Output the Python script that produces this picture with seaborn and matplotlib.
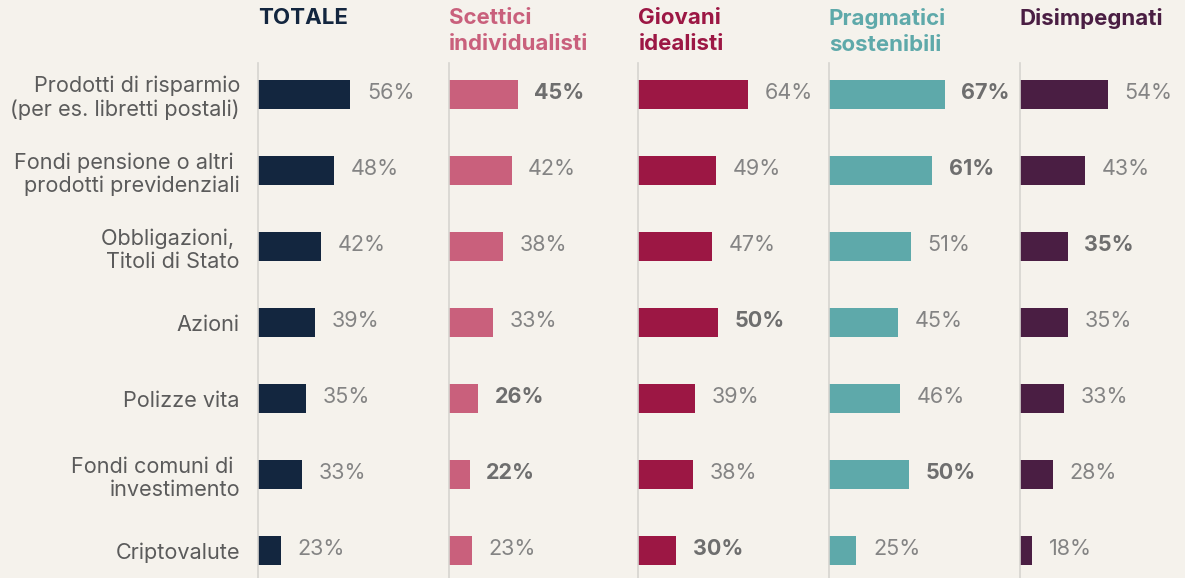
import pandas as pd
import matplotlib.pyplot as plt
import seaborn as sns

# --- data ---
categories = [
    "Prodotti di risparmio\n(per es. libretti postali)",
    "Fondi pensione o altri \nprodotti previdenziali",
    "Obbligazioni, \nTitoli di Stato",
    "Azioni",
    "Polizze vita",
    "Fondi comuni di \ninvestimento",
    "Criptovalute",
]
segments = ["TOTALE", "Scettici\nindividualisti", "Giovani\nidealisti",
            "Pragmatici\nsostenibili", "Disimpegnati"]

totale = [56, 48, 42, 39, 35, 33, 23]
scettici = [45, 42, 38, 33, 26, 22, 23]
giovani = [64, 49, 47, 50, 39, 38, 30]
pragmatici = [67, 61, 51, 45, 46, 50, 25]
disimpegnati = [54, 43, 35, 35, 33, 28, 18]

# values printed in bold in the source (row indexes)
bold_totale = []
bold_scettici = [0, 4, 5]
bold_giovani = [3, 6]
bold_pragmatici = [0, 1, 5]
bold_disimpegnati = [2]

colors = ["#13263f", "#c9607c", "#9c1744", "#5ea9aa", "#4a1e43"]


def main():
    series = [totale, scettici, giovani, pragmatici, disimpegnati]
    bolds = [bold_totale, bold_scettici, bold_giovani, bold_pragmatici, bold_disimpegnati]

    rows = []
    for seg, vals in zip(segments, series):
        for cat, v in zip(categories, vals):
            rows.append({"segmento": seg, "categoria": cat, "valore": v})
    df = pd.DataFrame(rows)

    sns.set_theme(style="white")
    plt.rcParams["font.family"] = ["Inter", "DejaVu Sans"]

    W, H = 1185, 578
    bg = "#f5f2ec"
    fig = plt.figure(figsize=(W / 100, H / 100), dpi=100, facecolor=bg)

    panel_left = [258, 448.5, 638.5, 829, 1019.5]
    panel_w = 160
    top_px = 63
    px_per_pct = 2.1
    x0 = 12  # axis starts at 12%, as the source bars suggest

    for k, (seg, vals, col, bl) in enumerate(zip(segments, series, colors, bolds)):
        ax = fig.add_axes([panel_left[k] / W, 0, panel_w / W, (H - top_px) / H])
        ax.set_facecolor("none")
        sub = df[df["segmento"] == seg]
        sns.barplot(data=sub, x="valore", y="categoria", color=col, saturation=1,
                    width=0.38, errorbar=None, orient="h", linewidth=0, ax=ax)
        ax.set_xlim(x0, x0 + panel_w / px_per_pct)
        ax.set_ylim(6.36, -0.414)
        ax.set_xlabel("")
        ax.set_ylabel("")
        ax.set_xticks([])
        for s in ["top", "right", "bottom"]:
            ax.spines[s].set_visible(False)
        ax.spines["left"].set_color("#d6d4d0")
        ax.spines["left"].set_linewidth(1.2)

        if k == 0:
            ax.tick_params(axis="y", length=0, pad=13, labelsize=15.6, labelcolor="#5b5b5b")
        else:
            ax.tick_params(axis="y", length=0, labelleft=False)

        for i, v in enumerate(vals):
            b = i in bl
            ax.annotate(f"{v}%", xy=(v, i), xytext=(12, 1), textcoords="offset points",
                        ha="left", va="center", fontsize=15.5,
                        color="#6e6e6e" if b else "#848484",
                        fontweight="bold" if b else "normal", annotation_clip=False)

        fig.text(panel_left[k] / W, 1 - 8 / H, seg, ha="left", va="top",
                 fontsize=16, fontweight="bold", color=col, linespacing=1.36)

    fig.savefig("out.png", dpi=100, facecolor=bg)
    plt.close(fig)


if __name__ == "__main__":
    main()
